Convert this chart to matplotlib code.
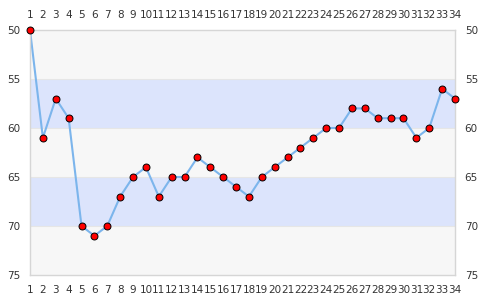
import matplotlib
matplotlib.use("Agg")
import matplotlib.pyplot as plt

# data
x_vals = list(range(1, 35))
y_vals = [50, 61, 57, 59, 70, 71, 70, 67, 65, 64, 67, 65, 65, 63, 64, 65, 66, 67,
          65, 64, 63, 62, 61, 60, 60, 58, 58, 59, 59, 59, 61, 60, 56, 57]
y_ticks = [50, 55, 60, 65, 70, 75]
band_edges = [50, 55, 60, 65, 70, 75]
band_colors = ['#f7f7f7', '#dce4fc', '#f7f7f7', '#dce4fc', '#f7f7f7']

fig = plt.figure(figsize=(4.85, 3.0), dpi=100)
ax = fig.add_axes([30 / 485, 25 / 300, 425 / 485, 245 / 300])

for i, c in enumerate(band_colors):
    ax.axhspan(band_edges[i], band_edges[i + 1], color=c, lw=0, zorder=0)
for y in band_edges[1:-1]:
    ax.axhline(y, color='#e6e6e6', lw=0.8, zorder=1)

ax.plot(x_vals, y_vals, '-', color='#7cb5ec', lw=1.5, zorder=2)
ax.plot(x_vals, y_vals, 'o', color='red', mec='black', mew=0.7, ms=5, zorder=3,
        clip_on=False)

ax.set_xlim(1, 34)
ax.set_ylim(75, 50)
ax.set_xticks(x_vals)
ax.set_yticks(y_ticks)
ax.tick_params(axis='x', length=0, labelsize=7.5, labelcolor='#333333', pad=6,
               top=True, labeltop=True)
ax.tick_params(axis='x', which='major', pad=7)
ax.tick_params(axis='y', length=0, labelsize=7.5, labelcolor='#333333', pad=7,
               right=True, labelright=True)
for s in ax.spines.values():
    s.set_color('#d6d6d6')
    s.set_linewidth(1)

fig.savefig('out.png', dpi=100)
